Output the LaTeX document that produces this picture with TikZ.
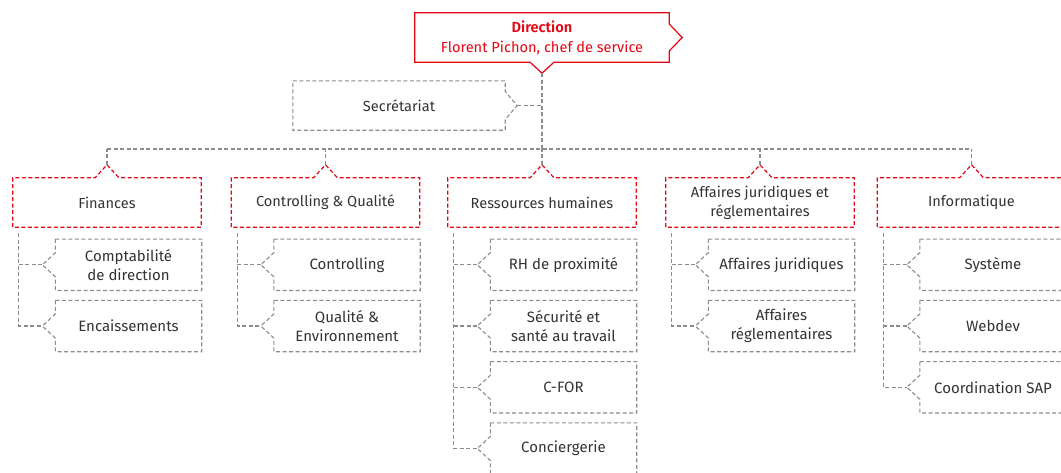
\documentclass[tikz,border=0pt]{standalone}
\usepackage{fontspec}
\setmainfont{Fira Sans}[BoldFont=* SemiBold]
\usetikzlibrary{calc}
\definecolor{rd}{HTML}{E30613}
\definecolor{gl}{HTML}{8C8C8C}
\definecolor{tx}{HTML}{333333}
\newcommand\deptoutline[1]{%
  \draw[rdd] (#1.south west) -- (#1.north west) -- ([xshift=-12pt]#1.north) -- ([yshift=13pt]#1.north) -- ([xshift=12pt]#1.north) -- (#1.north east) -- (#1.south east) -- cycle;
  \coordinate (#1-t) at ([yshift=13pt]#1.north);
  \coordinate (#1-v) at ([xshift=6pt,yshift=-6pt]#1.south west);}
\newcommand\childoutline[1]{%
  \draw[gd] (#1.north west) -- ([yshift=12pt]#1.west) -- ([xshift=-13pt]#1.west) -- ([yshift=-12pt]#1.west) -- (#1.south west) -- (#1.south east) -- (#1.north east) -- cycle;
  \coordinate (#1-t) at ([xshift=-13pt]#1.west);}
\begin{document}
\begin{tikzpicture}[x=1pt,y=-1pt,
  box/.style={inner sep=0pt, align=center, text=tx, font=\fontsize{14.6}{19}\selectfont},
  dept/.style={box, minimum width=188pt, minimum height=49pt},
  child/.style={box, minimum width=146pt, minimum height=51pt, font=\fontsize{15}{19}\selectfont},
  gd/.style={draw=gl, line width=1.1pt, dash pattern=on 4pt off 2.5pt},
  rdd/.style={draw=rd, line width=1.2pt, dash pattern=on 4pt off 2.5pt}]
\useasboundingbox (0,0) rectangle (1061,472);
% Direction
\node[box, minimum width=254pt, minimum height=49pt, text=rd, font=\fontsize{14.6}{20}\selectfont] (dir) at (542,37.5) {\textbf{Direction}\\Florent Pichon, chef de service};
\draw[rd, line width=1.2pt] (dir.north west) -- (dir.north east) -- ([yshift=13.5pt]dir.east) -- ([xshift=13pt]dir.east) -- ([yshift=-13.5pt]dir.east) -- (dir.south east) -- ([xshift=12pt]dir.south) -- ([yshift=-11pt]dir.south) -- ([xshift=-12pt]dir.south) -- (dir.south west) -- cycle;
\coordinate (dir-t) at ([yshift=-11pt]dir.south);
% Secretariat
\node[box, minimum width=212pt, minimum height=49pt] (sec) at (399,105.5) {Secrétariat};
\draw[gd] (sec.north west) -- (sec.north east) -- ([yshift=14pt]sec.east) -- ([xshift=12pt]sec.east) -- ([yshift=-14pt]sec.east) -- (sec.south east) -- (sec.south west) -- cycle;
\coordinate (sec-t) at ([xshift=12pt]sec.east);
\coordinate (bus) at (0,149);
% Departments
\node[dept] (fin) at (107,202.5) {Finances};
\node[dept] (con) at (325.5,202.5) {Controlling \& Qualité};
\node[dept] (rh) at (542,202.5) {Ressources humaines};
\node[dept] (aff) at (760,202.5) {Affaires juridiques et\\réglementaires};
\node[dept] (inf) at (971.5,202.5) {Informatique};
\foreach \d in {fin,con,rh,aff,inf}{\deptoutline{\d}}
% Children
\node[child] (fin1) at (128.5,264.75) {Comptabilité\\de direction};
\node[child] (fin2) at (128.5,326) {Encaissements};
\node[child] (con1) at (347,264.75) {Controlling};
\node[child] (con2) at (347,326) {Qualité \&\\Environnement};
\node[child] (rh1) at (563.5,264.75) {RH de proximité};
\node[child] (rh2) at (563.5,326) {Sécurité et\\santé au travail};
\node[child] (rh3) at (563.5,387.25) {C-FOR};
\node[child] (rh4) at (563.5,448.5) {Conciergerie};
\node[child] (aff1) at (781.5,264.75) {Affaires juridiques};
\node[child] (aff2) at (781.5,326) {Affaires\\réglementaires};
\node[child] (inf1) at (993,264.75) {Système};
\node[child] (inf2) at (993,326) {Webdev};
\node[child] (inf3) at (993,387.25) {Coordination SAP};
\foreach \c in {fin1,fin2,con1,con2,rh1,rh2,rh3,rh4,aff1,aff2,inf1,inf2,inf3}{\childoutline{\c}}
% Connectors
\draw[gd] (dir-t) -- (dir-t |- bus);
\draw[gd] (sec-t) -- (sec-t -| dir-t);
\draw[gd] (fin-t |- bus) -- (inf-t |- bus);
\foreach \d in {fin,con,rh,aff,inf}{\draw[gd] (\d-t) -- (\d-t |- bus);}
\foreach \d/\l in {fin/fin2,con/con2,rh/rh4,aff/aff2,inf/inf3}{\draw[gd] (\d-v) |- (\l-t);}
\foreach \c/\d in {fin1/fin,con1/con,rh1/rh,rh2/rh,rh3/rh,aff1/aff,inf1/inf,inf2/inf}{\draw[gd] (\c-t) -- (\c-t -| \d-v);}
\end{tikzpicture}
\end{document}
